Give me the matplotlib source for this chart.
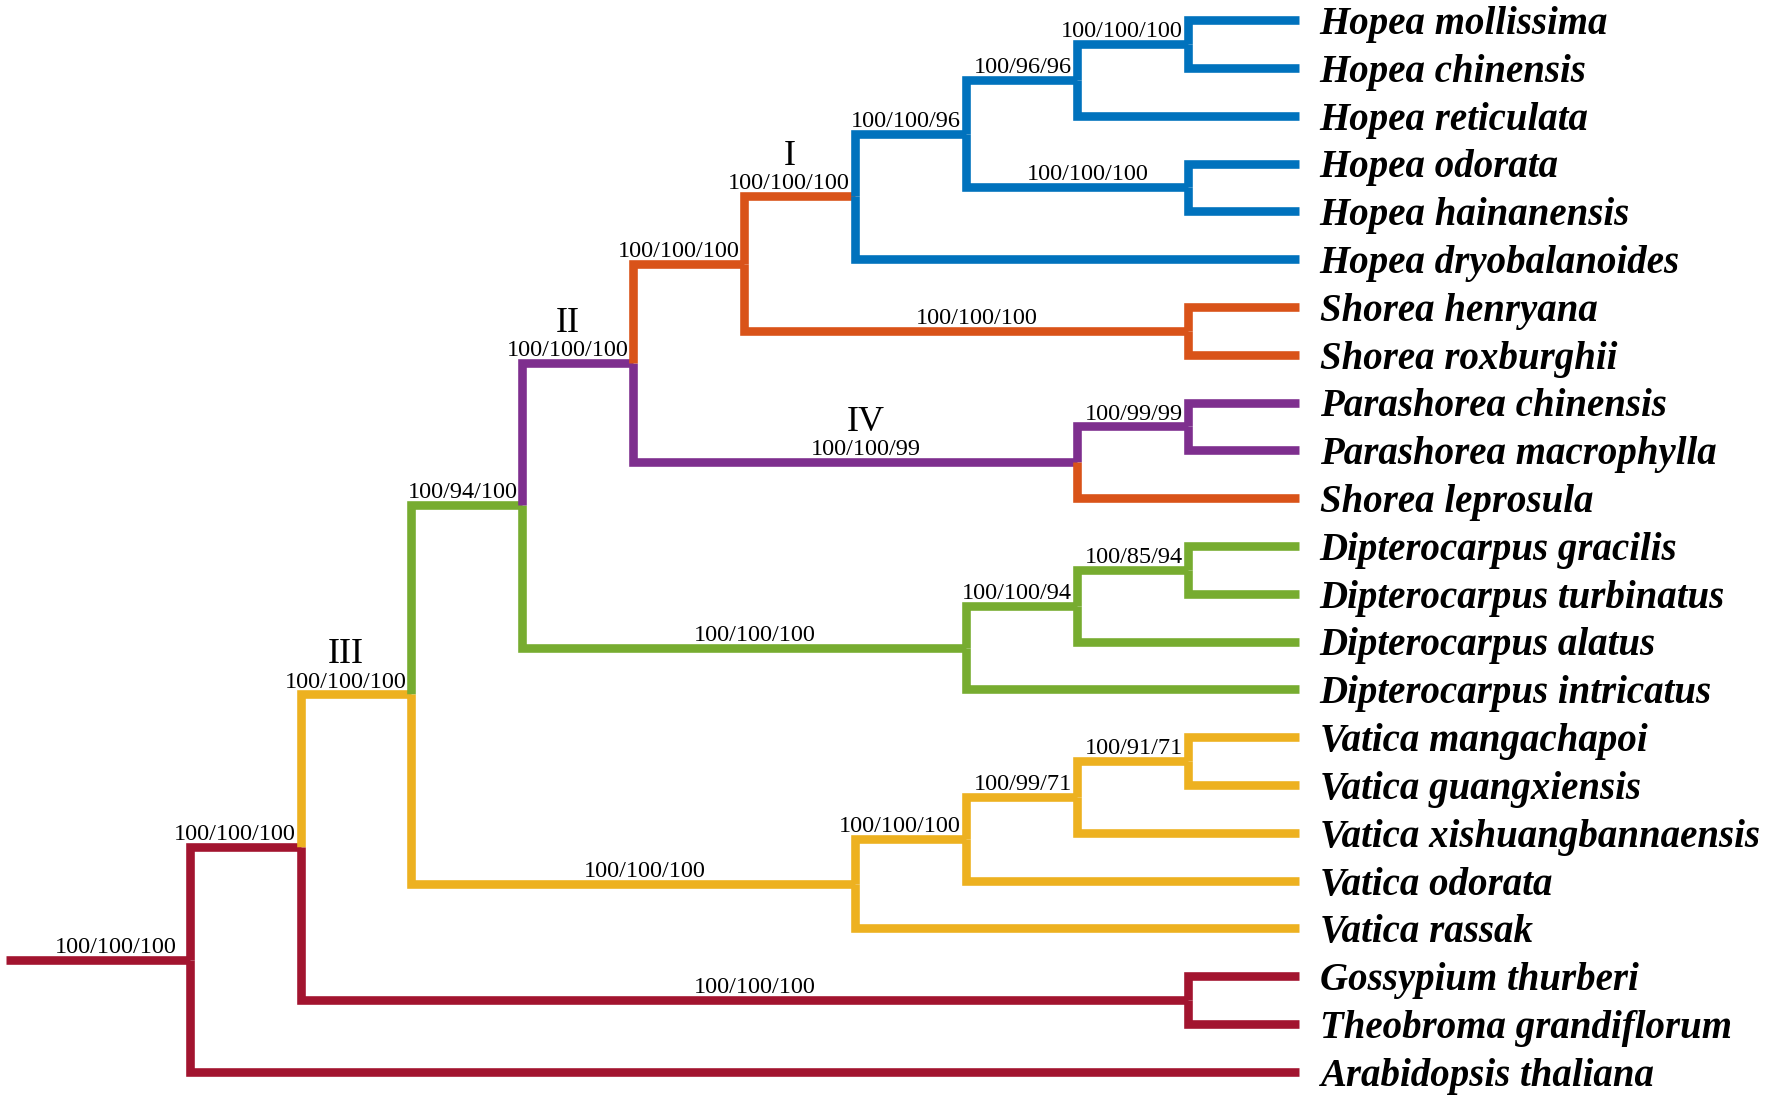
import matplotlib.pyplot as plt

# colours used in the figure
blue = "#0072BD"
orange = "#D95319"
yellow = "#EDB120"
purple = "#7E2F8E"
green = "#77AC30"
red = "#A2142F"

# tips, top to bottom
taxa = ["Hopea mollissima", "Hopea chinensis", "Hopea reticulata", "Hopea odorata",
        "Hopea hainanensis", "Hopea dryobalanoides", "Shorea henryana", "Shorea roxburghii",
        "Parashorea chinensis", "Parashorea macrophylla", "Shorea leprosula",
        "Dipterocarpus gracilis", "Dipterocarpus turbinatus", "Dipterocarpus alatus",
        "Dipterocarpus intricatus", "Vatica mangachapoi", "Vatica guangxiensis",
        "Vatica xishuangbannaensis", "Vatica odorata", "Vatica rassak",
        "Gossypium thurberi", "Theobroma grandiflorum", "Arabidopsis thaliana"]
taxon_parent = ["H5", "H5", "H3", "H4", "H4", "H", "SH", "SH", "PP", "PP", "PS",
                "D3", "D3", "D2", "D", "V4", "V4", "V3", "V2", "V", "C", "C", "R"]
taxon_color = [blue] * 6 + [orange] * 2 + [purple] * 2 + [orange] + [green] * 4 + [yellow] * 5 + [red] * 3

# internal nodes (cladogram depth, support values)
nodes = ["R", "A", "B", "C", "G", "V", "V2", "V3", "V4", "D", "D2", "D3",
         "P", "PS", "PP", "O", "SH", "H", "H2", "H3", "H4", "H5"]
node_parent = [None, "R", "A", "A", "B", "B", "V", "V2", "V3", "G", "D", "D2",
               "G", "P", "PS", "P", "O", "O", "H", "H2", "H2", "H3"]
node_depth = [0, 1, 2, 9, 3, 6, 7, 8, 9, 7, 8, 9, 4, 8, 9, 5, 9, 6, 7, 8, 9, 9]
node_support = ["100/100/100", "100/100/100", "100/100/100", "100/100/100", "100/94/100",
                "100/100/100", "100/100/100", "100/99/71", "100/91/71", "100/100/100",
                "100/100/94", "100/85/94", "100/100/100", "100/100/99", "100/99/99",
                "100/100/100", "100/100/100", "100/100/100", "100/100/96", "100/96/96",
                "100/100/100", "100/100/100"]
node_color = [red, red, yellow, red, green, yellow, yellow, yellow, yellow, green, green, green,
              purple, purple, purple, orange, orange, orange, blue, blue, blue, blue]
clade_names = {"H": "I", "P": "II", "B": "III", "PS": "IV"}

tip_depth = 10
root_start = -1.66

depth = dict(zip(nodes, node_depth))
parent = dict(zip(nodes, node_parent))
ypos = {}
for i, t in enumerate(taxa):
    ypos[t] = i
    depth[t] = tip_depth
    parent[t] = taxon_parent[i]


def node_y(n):
    if n in ypos:
        return ypos[n]
    kids = [c for c in parent if parent[c] == n]
    ypos[n] = sum(node_y(c) for c in kids) / len(kids)
    return ypos[n]


for n in nodes:
    node_y(n)

fig = plt.figure(figsize=(17.7, 11.02), dpi=100)
ax = fig.add_axes([0, 0, 1, 1])
ax.set_xlim(-1.71, 14.25)
ax.set_ylim(22.63, -0.42)
ax.axis("off")

lw = 6.2
edges = list(zip(nodes, node_color)) + list(zip(taxa, taxon_color))
for n, col in edges:
    p = parent[n]
    if p is None:
        xs = [root_start, 0]
        ys = [ypos[n], ypos[n]]
    else:
        xs = [depth[p], depth[p], depth[n]]
        ys = [ypos[p], ypos[n], ypos[n]]
    ax.plot(xs, ys, color=col, lw=lw, solid_capstyle="butt", solid_joinstyle="miter")

serif = "Liberation Serif"
for n, sup in zip(nodes, node_support):
    p = parent[n]
    x0 = root_start if p is None else depth[p]
    if p is None or depth[n] - x0 <= 1:
        # short branch: label sits against the node
        lab = ax.annotate(sup, (depth[n], ypos[n]), xytext=(-3.5, 5), textcoords="offset points",
                          ha="right", va="baseline", fontsize=17.5, family=serif)
        if p is None:
            lab.set_position((-9, 5))
    else:
        xm = (x0 + depth[n]) / 2 + 0.1
        lab = ax.annotate(sup, (xm, ypos[n]), xytext=(0, 5), textcoords="offset points",
                          ha="center", va="baseline", fontsize=17.5, family=serif)
    if n in clade_names:
        ax.annotate(clade_names[n], (0.5, 1), xycoords=lab, xytext=(0, 6), textcoords="offset points",
                    ha="center", va="baseline", fontsize=26, family=serif)

for t in taxa:
    ax.annotate(t, (tip_depth + 0.19, ypos[t]), xytext=(0, -10), textcoords="offset points",
                ha="left", va="baseline", fontsize=28, family=serif,
                fontweight="bold", fontstyle="italic")

fig.savefig("out.png", dpi=100)
